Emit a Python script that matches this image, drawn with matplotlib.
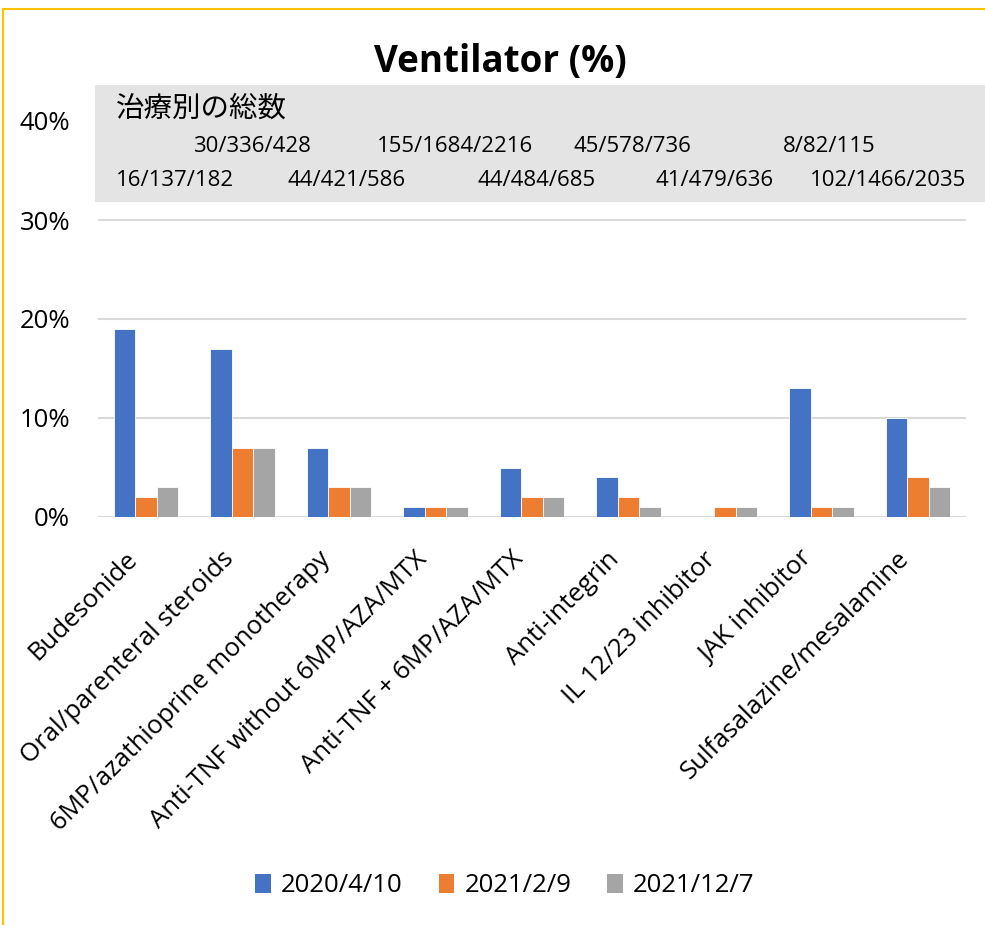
import matplotlib
matplotlib.use("Agg")
import matplotlib.pyplot as plt
from matplotlib.patches import Rectangle
from matplotlib.lines import Line2D
from matplotlib.transforms import ScaledTranslation
import numpy as np

categories = ["Budesonide", "Oral/parenteral steroids", "6MP/azathioprine monotherapy",
              "Anti-TNF without 6MP/AZA/MTX", "Anti-TNF + 6MP/AZA/MTX", "Anti-integrin",
              "IL 12/23 inhibitor", "JAK inhibitor", "Sulfasalazine/mesalamine"]
series_names = ["2020/4/10", "2021/2/9", "2021/12/7"]
v_2020_04_10 = [19, 17, 7, 1, 5, 4, 0, 13, 10]
v_2021_02_09 = [2, 7, 3, 1, 2, 2, 1, 1, 4]
v_2021_12_07 = [3, 7, 3, 1, 2, 1, 1, 1, 3]
totals = ["16/137/182", "30/336/428", "44/421/586", "155/1684/2216", "44/484/685",
          "45/578/736", "41/479/636", "8/82/115", "102/1466/2035"]
yticks = [0, 10, 20, 30, 40]
colors = ["#4472C4", "#ED7D31", "#A5A5A5"]

plt.rcParams['font.family'] = ['Open Sans', 'Noto Sans CJK JP', 'DejaVu Sans']

W, H = 985, 925
fig = plt.figure(figsize=(W / 100, H / 100), dpi=100)

def fx(px):
    return px / W

def fy(py):
    return 1 - py / H

ax_l, ax_r, ax_t, ax_b = 98, 966, 121, 517
ax = fig.add_axes([fx(ax_l), fy(ax_b), fx(ax_r - ax_l), (ax_b - ax_t) / H])

x = np.arange(len(categories))
bw = 0.223
for i, (vals, c, name) in enumerate(zip([v_2020_04_10, v_2021_02_09, v_2021_12_07], colors, series_names)):
    ax.bar(x + (i - 1) * bw, vals, width=bw, color=c, label=name, zorder=3,
           edgecolor='white', linewidth=0.6)

ax.set_xlim(-0.5, len(categories) - 0.5)
ax.set_ylim(0, 40)
ax.set_yticks(yticks)
ax.set_yticklabels([f"{t}%" for t in yticks], fontsize=18.5)
ax.grid(axis='y', color='#d9d9d9', linewidth=1.5, zorder=0)
for s in ax.spines.values():
    s.set_visible(False)
ax.axhline(0, color='#d9d9d9', linewidth=2, zorder=2)
ax.tick_params(axis='both', length=0)
ax.tick_params(axis='y', pad=20)
ax.set_xticks(x)
ax.set_xticklabels(categories, rotation=45, ha='right', va='baseline', rotation_mode='anchor', fontsize=18.5)
ax.tick_params(axis='x', pad=31)
offset = ScaledTranslation(-8 / 100, 0, fig.dpi_scale_trans)
for lbl in ax.get_xticklabels():
    lbl.set_transform(lbl.get_transform() + offset)

# Title
fig.text(fx(500), fy(62), "Ventilator (%)", ha='center', va='center', fontsize=26.5, fontweight='bold')

# Gray info box
fig.patches.append(Rectangle((fx(95), fy(202)), fx(985 - 95), (202 - 85) / H,
                             transform=fig.transFigure, facecolor='#e4e4e4', edgecolor='none', zorder=5))
fig.text(fx(116), fy(110), "治療別の総数", ha='left', va='center', fontsize=20.5, zorder=6)
label_px = [116, 193, 287, 377, 478, 573, 656, 783, 810]
for i, (t, px) in enumerate(zip(totals, label_px)):
    py = 180 if i % 2 == 0 else 147
    fig.text(fx(px), fy(py), t, ha='left', va='center', fontsize=16, zorder=6)

# Legend
handles = [Rectangle((0, 0), 1, 1, facecolor=c) for c in colors]
fig.legend(handles, series_names, loc='center', bbox_to_anchor=(fx(505), fy(886)), ncol=3,
           frameon=False, fontsize=18.5, handlelength=0.6, handleheight=0.8, handletextpad=0.4,
           columnspacing=1.4)

# Yellow border (left and top)
fig.add_artist(Line2D([fx(3), fx(3)], [fy(9), 0], transform=fig.transFigure, color='#FFC000', linewidth=1.5))
fig.add_artist(Line2D([fx(3), 1], [fy(9), fy(9)], transform=fig.transFigure, color='#FFC000', linewidth=1.5))

fig.savefig("out.png", dpi=100)
